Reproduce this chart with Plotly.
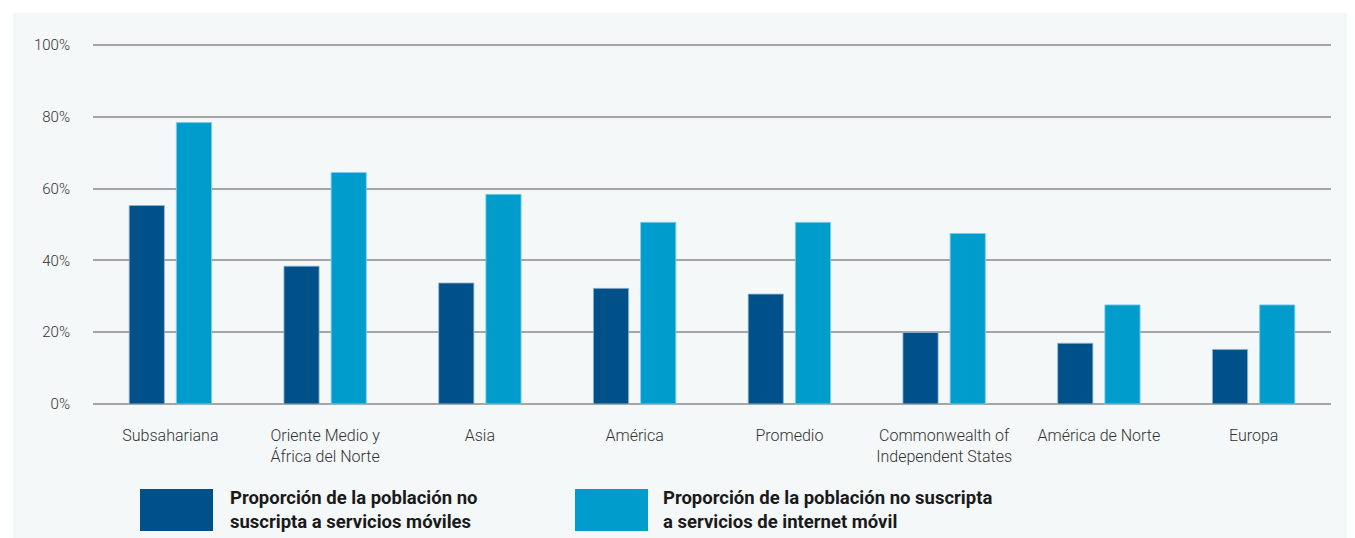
import plotly.graph_objects as go

regions = [
    "Subsahariana",
    "Oriente Medio y<br>África del Norte",
    "Asia",
    "América",
    "Promedio",
    "Commonwealth of<br>Independent States",
    "América de Norte",
    "Europa",
]
no_movil = [55.3, 38.4, 33.7, 32.2, 30.6, 19.9, 16.9, 15.2]
no_internet = [78.4, 64.5, 58.4, 50.6, 50.6, 47.5, 27.6, 27.6]
y_ticks = [0, 20, 40, 60, 80, 100]
y_tick_labels = ["0%", "20%", "40%", "60%", "80%", "100%"]
legend_labels = [
    "Proporción de la población no<br>suscripta a servicios móviles",
    "Proporción de la población no suscripta<br>a servicios de internet móvil",
]

DARK = "#005189"
LIGHT = "#009ccb"
PANEL = "#f4f8f9"
FONT = "Roboto, Arial, sans-serif"

# the page body adds an 8px margin, so the figure is drawn 8px smaller
OFF = 8
FIG_W, FIG_H = 1355 - OFF, 538 - OFF

fig = go.Figure()
fig.add_trace(
    go.Bar(
        x=regions,
        y=no_movil,
        name=legend_labels[0],
        marker=dict(color=DARK, line=dict(color="rgba(150,180,205,0.8)", width=1)),
    )
)
fig.add_trace(
    go.Bar(
        x=regions,
        y=no_internet,
        name=legend_labels[1],
        marker=dict(color=LIGHT, line=dict(color="rgba(120,205,235,0.9)", width=1)),
    )
)

# plot area in screen pixels: 93..1331 wide, 44..405 high (range padded slightly)
L, R, T, B = 93, 1331, 44, 405
W, H = R - L, B - T
Y0, Y1 = -0.3, 100.3


def px_x(v):
    return (v - L) / W


def px_y(v):
    return (B - v) / H


shapes = [
    # white strips around the tinted panel (13px from the window edge)
    dict(type="rect", xref="paper", yref="paper", x0=px_x(-20), x1=px_x(1400),
         y0=px_y(13), y1=px_y(-20), fillcolor="white", line_width=0, layer="below"),
    dict(type="rect", xref="paper", yref="paper", x0=px_x(-20), x1=px_x(13),
         y0=px_y(560), y1=px_y(-20), fillcolor="white", line_width=0, layer="below"),
    # legend swatches
    dict(type="rect", xref="paper", yref="paper", x0=px_x(140), x1=px_x(213),
         y0=px_y(531), y1=px_y(489), fillcolor=DARK, line_width=0),
    dict(type="rect", xref="paper", yref="paper", x0=px_x(575), x1=px_x(648),
         y0=px_y(531), y1=px_y(489), fillcolor=LIGHT, line_width=0),
]

annotations = [
    dict(text="<b>%s</b>" % legend_labels[0], xref="paper", yref="paper",
         x=px_x(228), y=px_y(510), xanchor="left", yanchor="middle", align="left",
         showarrow=False, font=dict(family=FONT, size=18.5, color="#1a1a1a")),
    dict(text="<b>%s</b>" % legend_labels[1], xref="paper", yref="paper",
         x=px_x(661), y=px_y(510), xanchor="left", yanchor="middle", align="left",
         showarrow=False, font=dict(family=FONT, size=18.5, color="#1a1a1a")),
]

fig.update_layout(
    width=FIG_W,
    height=FIG_H,
    barmode="group",
    bargap=0.39,
    bargroupgap=0.255,
    showlegend=False,
    paper_bgcolor=PANEL,
    plot_bgcolor=PANEL,
    margin=dict(l=L - OFF, r=1355 - R, t=T - OFF, b=538 - B),
    font=dict(family=FONT, color="#333333"),
    shapes=shapes,
    annotations=annotations,
    xaxis=dict(
        showgrid=False,
        showline=False,
        zeroline=False,
        ticks="",
        ticklabelstandoff=19,
        tickfont=dict(size=16, color="#333333", weight=300),
    ),
    yaxis=dict(
        range=[Y0, Y1],
        tickvals=y_ticks,
        ticktext=y_tick_labels,
        showgrid=True,
        gridcolor="#a3a5a7",
        gridwidth=1.5,
        zeroline=False,
        showline=False,
        ticks="",
        ticklabelstandoff=22,
        tickfont=dict(size=15, color="#333333", weight=300),
    ),
)

fig.write_html("out.html")
